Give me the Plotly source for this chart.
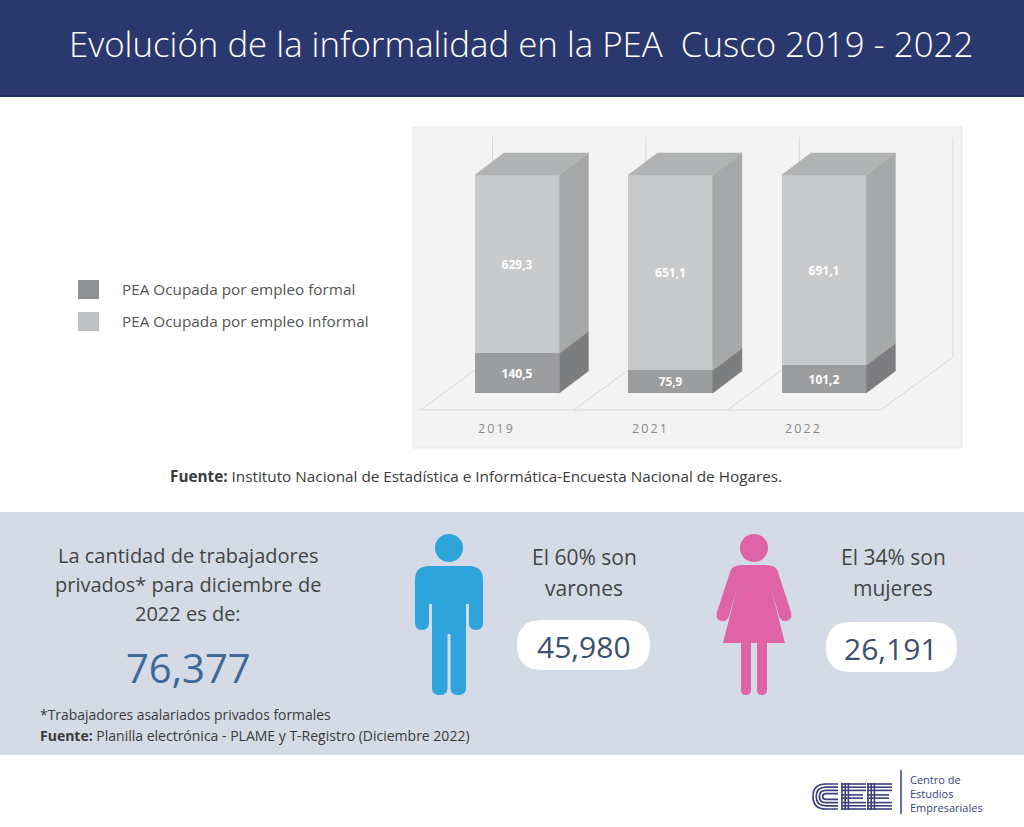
import plotly.graph_objects as go

# % Data
years = ["2019", "2021", "2022"]
formal = [140.5, 75.9, 101.2]
informal = [629.3, 651.1, 691.1]
legend_labels = ["PEA Ocupada por empleo formal", "PEA Ocupada por empleo informal"]

total_workers = "76,377"
men_share = "60%"
men_count = "45,980"
women_share = "34%"
women_count = "26,191"

W, H = 1024, 827
FONT = "Open Sans"
NAVY = "#3b3f7c"

# colours of the 3D bars: front, side
COL_FORMAL = ("#9c9d9e", "#7c7d7e")
COL_INFORMAL = ("#c9cacb", "#a7a8a9")
COL_TOP = "#b1b2b3"


def X(px):
    return px / W


def Y(py):
    return 1 - py / H


def pt(x, y):
    return f"{X(x):.5f},{Y(y):.5f}"


def poly(points):
    return "M " + " L ".join(pt(x, y) for x, y in points) + " Z"


def rrect(x0, y0, x1, y1, r):
    tl, tr, br, bl = r if isinstance(r, tuple) else (r, r, r, r)
    return (
        f"M {pt(x0 + tl, y0)} L {pt(x1 - tr, y0)} Q {pt(x1, y0)} {pt(x1, y0 + tr)}"
        f" L {pt(x1, y1 - br)} Q {pt(x1, y1)} {pt(x1 - br, y1)}"
        f" L {pt(x0 + bl, y1)} Q {pt(x0, y1)} {pt(x0, y1 - bl)}"
        f" L {pt(x0, y0 + tl)} Q {pt(x0, y0)} {pt(x0 + tl, y0)} Z"
    )


def shape_path(path, color):
    return dict(type="path", xref="paper", yref="paper", path=path,
                fillcolor=color, line=dict(width=0), layer="above")


def line_px(x0, y0, x1, y1, color=NAVY, width=1.6):
    return dict(type="line", xref="paper", yref="paper", x0=X(x0), x1=X(x1),
                y0=Y(y0), y1=Y(y1), line=dict(color=color, width=width))


def text(x, y, s, size, color="#444444", xanchor="center", **kw):
    return dict(x=X(x), y=Y(y), xref="paper", yref="paper", text=s,
                showarrow=False, xanchor=xanchor, yanchor="middle",
                font=dict(family=FONT, size=size, color=color, **kw))


# % Geometry of the pseudo 3D bars (data units)
bar_w = 0.55
dx, dy = 0.19, 10.1
xs = list(range(len(years)))
pct_formal = [f / (f + i) * 100 for f, i in zip(formal, informal)]

fig = go.Figure()

fig.add_trace(go.Bar(
    x=xs, y=formal, width=bar_w, marker=dict(color=COL_FORMAL[0], line=dict(width=0)),
    text=[f"{v:.1f}".replace(".", ",") for v in formal],
    name=legend_labels[0],
))
fig.add_trace(go.Bar(
    x=xs, y=informal, width=bar_w, marker=dict(color=COL_INFORMAL[0], line=dict(width=0)),
    text=[f"{v:.1f}".replace(".", ",") for v in informal],
    name=legend_labels[1],
))
fig.update_traces(
    textposition="inside", insidetextanchor="middle", textangle=0,
    textfont=dict(family=FONT, size=12, color="white", weight="bold"),
    hoverinfo="skip",
)


def faces(segments):
    fx, fy = [], []
    for x0, x1, y0, y1 in segments:
        fx += [x0, x1, x1 + dx, x0 + dx, x0, None]
        fy += [y0, y1, y1 + dy, y0 + dy, y0, None]
    return fx, fy


# side faces of each stacked segment and the top face of every bar
side_formal = faces([(x + bar_w / 2, x + bar_w / 2, 0, p) for x, p in zip(xs, pct_formal)])
side_informal = faces([(x + bar_w / 2, x + bar_w / 2, p, 100) for x, p in zip(xs, pct_formal)])
top_face = faces([(x - bar_w / 2, x + bar_w / 2, 100, 100) for x in xs])

for (fx, fy), col in [(side_formal, COL_FORMAL[1]), (side_informal, COL_INFORMAL[1]),
                      (top_face, COL_TOP)]:
    fig.add_trace(go.Scatter(x=fx, y=fy, mode="lines", fill="toself", fillcolor=col,
                             line=dict(width=0.5, color=col), hoverinfo="skip"))

# % Floor and back wall lines
shapes = []
grid = dict(color="#d9d9d9", width=1)
floor_front, floor_back, floor_dx, wall_top = -7.8, 16.5, 0.47, 117.4
bounds = [k - 0.63 for k in range(len(years) + 1)]
shapes.append(dict(type="line", xref="x", yref="y", x0=bounds[0], x1=bounds[-1],
                   y0=floor_front, y1=floor_front, line=grid, layer="below"))
for b in bounds:
    shapes.append(dict(type="line", xref="x", yref="y", x0=b, x1=b + floor_dx,
                       y0=floor_front, y1=floor_back, line=grid, layer="below"))
    shapes.append(dict(type="line", xref="x", yref="y", x0=b + floor_dx, x1=b + floor_dx,
                       y0=floor_back, y1=wall_top, line=grid, layer="below"))

# % Background blocks
shapes += [
    dict(type="rect", xref="paper", yref="paper", x0=0, x1=1, y0=Y(96), y1=1,
         fillcolor="#2b386d", line=dict(width=0), layer="below"),
    dict(type="line", xref="paper", yref="paper", x0=0, x1=1, y0=Y(96), y1=Y(96),
         line=dict(color="#1f2a55", width=2), layer="below"),
    dict(type="rect", xref="paper", yref="paper", x0=X(413), x1=X(962), y0=Y(448), y1=Y(127),
         fillcolor="#f3f3f3", line=dict(color="#e8e8e8", width=1), layer="below"),
    dict(type="rect", xref="paper", yref="paper", x0=0, x1=1, y0=Y(755), y1=Y(512),
         fillcolor="#d4dbe7", line=dict(width=0), layer="below"),
    # legend squares
    dict(type="rect", xref="paper", yref="paper", x0=X(78), x1=X(99), y0=Y(299), y1=Y(280),
         fillcolor="#8f9091", line=dict(width=0)),
    dict(type="rect", xref="paper", yref="paper", x0=X(78), x1=X(99), y0=Y(331), y1=Y(312),
         fillcolor="#bfc0c1", line=dict(width=0)),
    # pills
    shape_path(rrect(517, 620, 650, 670, 25), "white"),
    shape_path(rrect(826, 622, 957, 672, 25), "white"),
    # logo divider
    line_px(901, 770, 901, 814, width=1.5),
]

# % Man icon
BLUE = "#2fa3dc"
shapes += [
    dict(type="circle", xref="paper", yref="paper", x0=X(435), x1=X(463), y0=Y(562), y1=Y(534),
         fillcolor=BLUE, line=dict(width=0)),
    shape_path(rrect(415, 566, 483, 604, (14, 14, 0, 0)), BLUE),
    shape_path(rrect(415, 596, 429, 630, (0, 0, 7, 7)), BLUE),
    shape_path(rrect(469, 596, 483, 630, (0, 0, 7, 7)), BLUE),
    shape_path(poly([(432, 596), (466, 596), (466, 634), (432, 634)]), BLUE),
    shape_path(rrect(432, 628, 447.5, 695, (0, 0, 7, 7)), BLUE),
    shape_path(rrect(450.5, 628, 466, 695, (0, 0, 7, 7)), BLUE),
]

# % Woman icon
PINK = "#e064a5"
woman = (
    f"M {pt(742, 565)} L {pt(766, 565)} Q {pt(776, 565)} {pt(778, 572)}"
    f" L {pt(791, 612)} Q {pt(793, 620)} {pt(786, 621)} Q {pt(781, 622)} {pt(779, 616)}"
    f" L {pt(771, 588)} L {pt(785, 643)} L {pt(723, 643)} L {pt(737, 588)}"
    f" L {pt(729, 616)} Q {pt(727, 622)} {pt(722, 621)} Q {pt(715, 620)} {pt(717, 612)}"
    f" L {pt(730, 572)} Q {pt(732, 565)} {pt(742, 565)} Z"
)
shapes += [
    dict(type="circle", xref="paper", yref="paper", x0=X(740), x1=X(768), y0=Y(562), y1=Y(534),
         fillcolor=PINK, line=dict(width=0)),
    shape_path(woman, PINK),
    shape_path(rrect(741, 640, 751, 695, (0, 0, 5, 5)), PINK),
    shape_path(rrect(757, 640, 767, 695, (0, 0, 5, 5)), PINK),
]

# % CEE logo made of stripes
ly0, ly1 = 783, 810
for k in range(4):
    o = 1 + k * 3.2
    # C: nested arcs
    shapes.append(dict(
        type="path", xref="paper", yref="paper", line=dict(color=NAVY, width=1.7),
        path=(f"M {pt(838, ly0 + o)} L {pt(826, ly0 + o)} Q {pt(812 + o, ly0 + o)} {pt(812 + o, (ly0 + ly1) / 2)}"
              f" Q {pt(812 + o, ly1 - o)} {pt(826, ly1 - o)} L {pt(838, ly1 - o)}"),
    ))
for ex in (841, 867):
    for k in range(3):
        o = 1 + k * 3.2
        shapes.append(line_px(ex + o, ly0, ex + o, ly1))          # spine
        shapes.append(line_px(ex, ly0 + o, ex + 25, ly0 + o))      # top arm
        shapes.append(line_px(ex, ly1 - o, ex + 25, ly1 - o))      # bottom arm
    mid = (ly0 + ly1) / 2
    for off in (-1.6, 1.6):
        shapes.append(line_px(ex, mid + off, ex + 22, mid + off))  # middle arm

# % Texts
annotations = [
    text(521, 44, "Evolución de la informalidad en la PEA  Cusco 2019 - 2022", 34.8, "white",
         weight=300),
    text(120, 289, legend_labels[0], 15.3, "#555555", xanchor="left"),
    text(120, 321, legend_labels[1], 15.3, "#555555", xanchor="left"),
    text(476, 476, "<b>Fuente:</b> Instituto Nacional de Estadística e Informática-Encuesta Nacional de Hogares.",
         15.3, "#3a3a3a"),
    text(188, 555, "La cantidad de trabajadores", 20),
    text(188, 584, "privados* para diciembre de", 20),
    text(188, 613, "2022 es de:", 20),
    text(188, 667, total_workers, 40, "#3f6896"),
    text(38, 714, "*Trabajadores asalariados privados formales", 13.9, "#3a3a3a", xanchor="left"),
    text(38, 735, "<b>Fuente:</b> Planilla electrónica - PLAME y T-Registro (Diciembre 2022)",
         14, "#3a3a3a", xanchor="left"),
    text(584, 557, f"El {men_share} son", 21),
    text(584, 588, "varones", 21),
    text(584, 646, men_count, 30, "#3c4f6d"),
    text(893, 557, f"El {women_share} son", 21),
    text(893, 588, "mujeres", 21),
    text(891, 648, women_count, 30, "#3c4f6d"),
    text(908, 779, "Centro de", 11, NAVY, xanchor="left"),
    text(908, 793, "Estudios", 11, NAVY, xanchor="left"),
    text(908, 807, "Empresariales", 11, NAVY, xanchor="left"),
]
for x, year in zip(xs, years):
    annotations.append(dict(
        x=x - 0.14, y=Y(428), xref="x", yref="paper", text="\u2009".join(year),
        showarrow=False, font=dict(family=FONT, size=12.5, color="#8a8a8a"),
    ))

fig.update_layout(
    width=W, height=H, margin=dict(l=0, r=0, t=0, b=0),
    paper_bgcolor="white", plot_bgcolor="rgba(0,0,0,0)",
    barmode="stack", barnorm="percent", showlegend=False,
    xaxis=dict(domain=[X(413), X(962)], range=[-0.678, 2.899], visible=False, fixedrange=True),
    yaxis=dict(domain=[Y(448), Y(127)], range=[-25.2, 122.0], visible=False, fixedrange=True),
    shapes=shapes, annotations=annotations,
)

fig.write_html("out.html", config={"displayModeBar": False},
               post_script="document.body.style.margin='0';")
